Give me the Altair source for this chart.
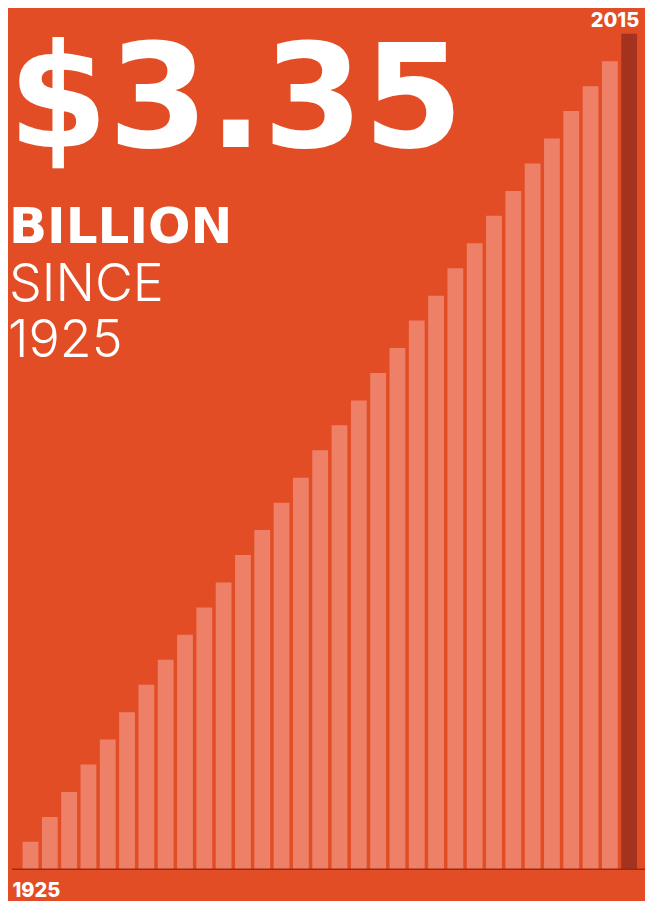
import altair as alt
import pandas as pd

# --- data -------------------------------------------------------------
bar_index = list(range(1, 33))
values_billion = [0.11, 0.21, 0.31, 0.42, 0.52, 0.63, 0.74, 0.84, 0.94, 1.05,
                  1.15, 1.26, 1.36, 1.47, 1.57, 1.68, 1.78, 1.88, 1.99, 2.09,
                  2.20, 2.30, 2.41, 2.51, 2.62, 2.72, 2.83, 2.93, 3.04, 3.14,
                  3.24, 3.35]
highlight = ["past"] * 31 + ["latest"]
headline = ["$3.35"]
sub_lines = ["BILLION", "SINCE", "1925"]
year_start = ["1925"]
year_end = ["2015"]

BG = "#E24D25"
BAR = "#EE8068"
LAST = "#A3331E"
BASE = "#9B2C14"

df = pd.DataFrame({"i": bar_index, "v": values_billion, "h": highlight})

W, H = 637, 893
xs = alt.Scale(domain=[0.094, 32.56], nice=False, zero=False)
ys = alt.Scale(domain=[-0.1271, 3.4534], nice=False, zero=False)

bars = alt.Chart(df).mark_bar(size=15.8).encode(
    x=alt.X("i:Q", scale=xs, axis=None),
    y=alt.Y("v:Q", scale=ys, axis=None),
    y2=alt.datum(0),
    color=alt.Color("h:N", scale=alt.Scale(domain=["past", "latest"], range=[BAR, LAST]), legend=None),
)

base = alt.Chart(pd.DataFrame({"z": [0]})).mark_rule(color=BASE, strokeWidth=1.5).encode(
    y=alt.Y("z:Q", scale=ys, axis=None),
    x=alt.value(4),
    x2=alt.value(W),
)

def txt(label, x, y, size, weight, font="Inter", align="left"):
    return alt.Chart(pd.DataFrame({"t": [label]})).mark_text(
        align=align, baseline="alphabetic", font=font, fontSize=size,
        fontWeight=weight, color="white",
    ).encode(text="t:N", x=alt.value(x), y=alt.value(y))

t_head = txt(headline[0], 0, 138.7, 144, "bold", font="DejaVu Sans")
t_b = txt(sub_lines[0], 1, 235, 50, "bold", font="DejaVu Sans")
t_s = txt(sub_lines[1], 1, 293.4, 52, 300)
t_y = txt(sub_lines[2], 0, 349, 52, 300)

lbl_start = alt.Chart(pd.DataFrame({"i": [1], "t": year_start})).mark_text(
    align="left", baseline="alphabetic", font="Inter", fontSize=20, fontWeight=800,
    color="white", dx=-18,
).encode(x=alt.X("i:Q", scale=xs, axis=None), y=alt.value(889), text="t:N")

lbl_end = alt.Chart(pd.DataFrame({"i": [32], "t": year_end})).mark_text(
    align="right", baseline="alphabetic", font="Inter", fontSize=20, fontWeight=800,
    color="white", dx=10,
).encode(x=alt.X("i:Q", scale=xs, axis=None), y=alt.value(19), text="t:N")

chart = alt.layer(bars, base, t_head, t_b, t_s, t_y, lbl_start, lbl_end).properties(
    width=W, height=H, padding=0, background=BG,
    autosize=alt.AutoSizeParams(type="none"),
).configure_view(stroke=None)

chart.save("out.html", embed_options={"renderer": "svg", "actions": False})
